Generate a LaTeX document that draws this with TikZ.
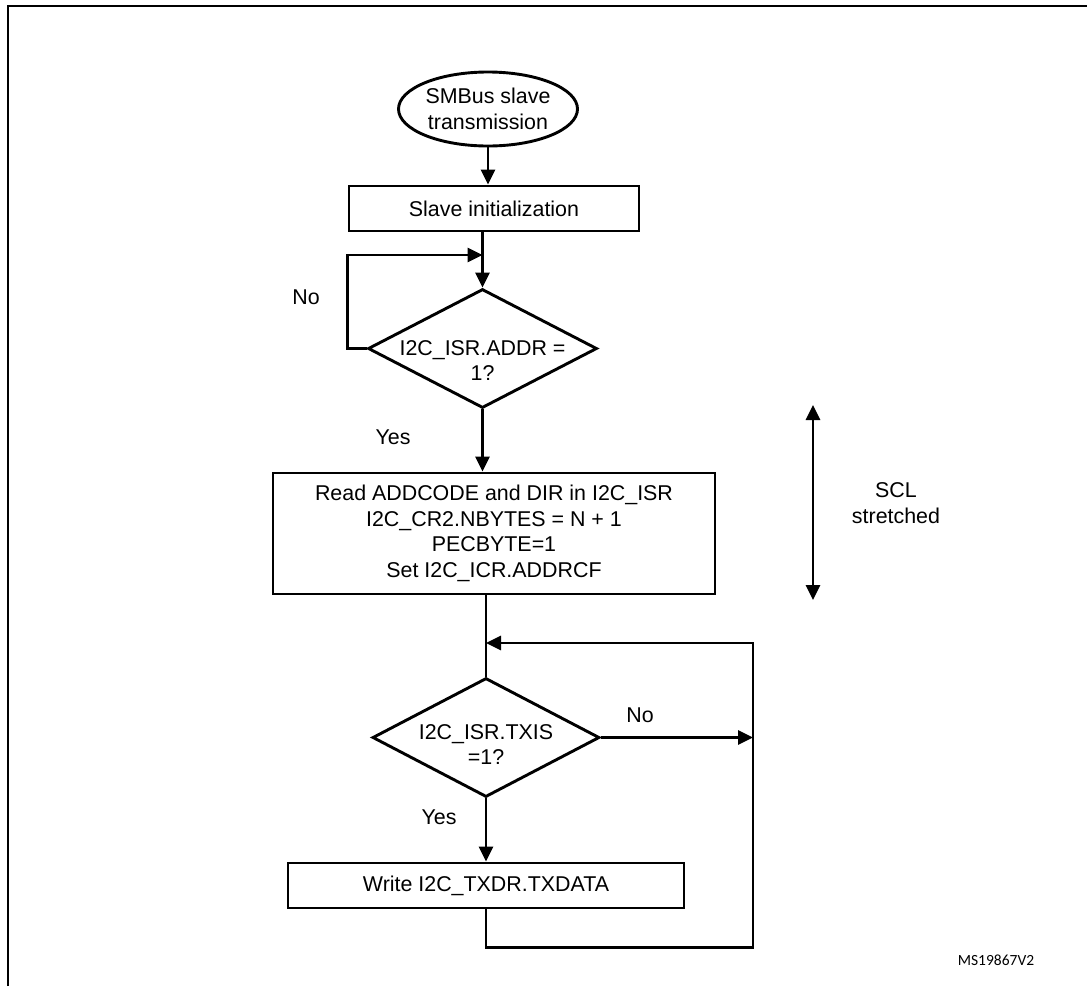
\documentclass[tikz,border=0pt]{standalone}
\usepackage{fontspec}
\setmainfont{Liberation Sans}
\newfontfamily\idfont{Carlito}
\usetikzlibrary{shapes.geometric, arrows.meta}
\tikzset{>={Triangle[length=15pt,width=14pt]}}
\tikzset{
  flowline/.style={line width=2.9pt},
  box/.style={draw, line width=2.9pt, rectangle, inner sep=0pt, align=center},
  decision/.style={draw, line width=2.9pt, diamond, inner sep=0pt},
  terminal/.style={draw, line width=2.9pt, ellipse, inner sep=0pt, align=center},
}
\newcommand{\flowfont}{\fontsize{21.4}{25.7}\selectfont}

\begin{document}
\begin{tikzpicture}[x=1pt,y=-1pt,font=\flowfont]
    \useasboundingbox (0,0) rectangle (1087,986);
    % frame
    \draw[line width=2.8pt] (8,986) -- (8,6) -- (1087,6);

    % flow nodes
    \node[terminal, minimum width=179pt, minimum height=74pt] (start) at (488,109) {SMBus slave\\transmission};
    \node[box, minimum width=290pt, minimum height=45pt] (init) at (494,208.5) {Slave initialization};
    \node[decision, minimum width=229pt, minimum height=119pt,
          label={[align=center,yshift=-12pt]center:{I2C\_ISR.ADDR =\\1?}}] (addr) at (482.5,348.5) {};
    \node[box, minimum width=442pt, minimum height=121pt] (read) at (494,533.5)
          {Read ADDCODE and DIR in I2C\_ISR\\I2C\_CR2.NBYTES = N + 1\\PECBYTE=1\\Set I2C\_ICR.ADDRCF};
    \node[decision, minimum width=227pt, minimum height=119pt,
          label={[align=center,yshift=-7pt]center:{I2C\_ISR.TXIS\\=1?}}] (txis) at (486,737.5) {};
    \node[box, minimum width=396pt, minimum height=45pt] (write) at (486,885.5) {Write I2C\_TXDR.TXDATA};

    % labels
    \node (no1) at (306,297) {No};
    \node (yes1) at (393,437) {Yes};
    \node (no2) at (640,715) {No};
    \node (yes2) at (439,817) {Yes};
    \node[align=center] (scl) at (896,503) {SCL\\stretched};
    \node[font=\idfont\fontsize{15.5}{18}\selectfont] (msid) at (996,960) {MS19867V2};

    % junctions
    \coordinate (j1) at (482.5,255);
    \coordinate (rt) at (753,643);
    \coordinate (sclTop) at (813,405);
    \coordinate (sclBot) at (813,600);

    % connectors
    \draw[flowline,->] (start.south) -- (start.south |- init.north);
    \draw[flowline,->] (addr.north |- init.south) -- (addr.north);
    \draw[flowline,->] (addr.west) -- (init.west |- addr.west) |- (j1);
    \draw[flowline,->] (addr.south) -- (addr.south |- read.north);
    \draw[flowline] (txis.north |- read.south) -- (txis.north);
    \draw[flowline,->] (txis.east) -- (txis.east -| rt);
    \draw[flowline,->] (txis.south) -- (write.north);
    \draw[flowline,->] (write.south) -- ++(0,38) -| (rt) -- (txis.north |- rt);
    \draw[flowline,<->] (sclTop) -- (sclBot);
\end{tikzpicture}
\end{document}
